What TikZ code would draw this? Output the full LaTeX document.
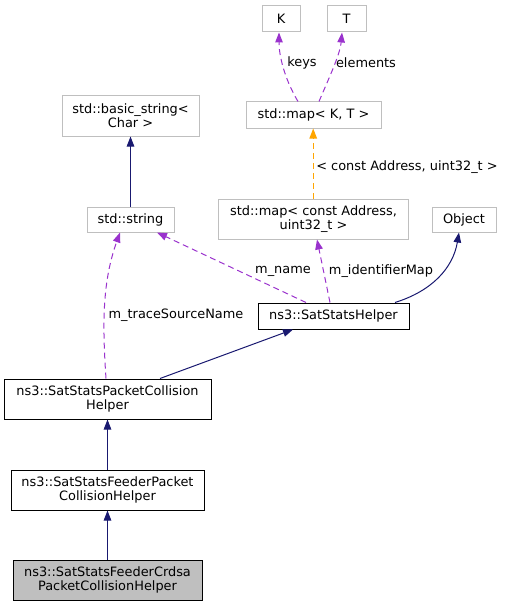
\documentclass[tikz,border=0pt]{standalone}
\usepackage{fontspec}
\setmainfont{DejaVu Sans}
\usetikzlibrary{arrows.meta,calc}
\definecolor{boxgray}{HTML}{BFBFBF}
\definecolor{navy}{HTML}{191970}
\definecolor{orchid}{HTML}{9A32CD}
\definecolor{tmplorange}{RGB}{255,165,0}
\definecolor{fillgray}{HTML}{BFBFBF}
\tikzset{
  box/.style={draw=boxgray, line width=1pt, inner sep=0pt, align=center, font=\fontsize{12.9}{14.3}\selectfont},
  nsbox/.style={box, draw=black},
  inh/.style={draw=navy, line width=1pt, -{Triangle[length=10pt,width=7.5pt]}},
  usage/.style={draw=orchid, line width=1pt, dash pattern=on 6pt off 4pt, -{Triangle[length=10pt,width=7.5pt]}},
  tmpl/.style={color=tmplorange, line width=1.2pt, dash pattern=on 6pt off 4pt, -{Triangle[length=10pt,width=7.5pt]}},
  lbl/.style={font=\fontsize{12.9}{14.3}\selectfont, inner sep=0pt},
}
\begin{document}
\begin{tikzpicture}[x=1pt,y=-1pt]
\useasboundingbox (0,0) rectangle (505,607);
% nodes
\node[box, minimum width=38pt, minimum height=26pt] (K) at (281,19) {K};
\node[box, minimum width=39pt, minimum height=26pt] (T) at (346.5,19) {T};
\node[box, minimum width=135pt, minimum height=26pt] (mapKT) at (313.5,115) {std::map< K, T >};
\node[box, minimum width=137pt, minimum height=40pt] (bstr) at (130.5,116) {std::basic\_string<\\Char >};
\node[box, minimum width=87pt, minimum height=25pt] (str) at (130.5,219.5) {std::string};
\node[box, minimum width=190pt, minimum height=40pt] (mapA) at (313.5,219) {std::map< const Address,\\uint32\_t >};
\node[box, minimum width=64pt, minimum height=25pt] (obj) at (464,219.5) {Object};
\node[nsbox, minimum width=151pt, minimum height=26pt] (helper) at (333.5,316) {ns3::SatStatsHelper};
\node[nsbox, minimum width=207pt, minimum height=40pt] (pch) at (107.5,399) {ns3::SatStatsPacketCollision\\Helper};
\node[nsbox, minimum width=193pt, minimum height=40pt] (fpch) at (107.5,490) {ns3::SatStatsFeederPacket\\CollisionHelper};
\node[nsbox, fill=fillgray, minimum width=189pt, minimum height=40pt] (crdsa) at (107.5,580) {ns3::SatStatsFeederCrdsa\\PacketCollisionHelper};
% edges
\draw[usage] ([xshift=-15.5pt]mapKT.north) .. controls (284,78) and (279,55) .. ([xshift=-2pt]K.south);
\draw[usage] ([xshift=5.5pt]mapKT.north) .. controls (328,80) and (340,55) .. ([xshift=-4.5pt]T.south);
\draw[tmpl] ([xshift=-0.3pt]mapA.north) -- ([xshift=-0.3pt]mapKT.south);
\draw[inh] (str.north) -- (bstr.south);
\draw[usage] ([xshift=-27.5pt]helper.north) -- ([xshift=26.5pt]str.south);
\draw[usage] ([xshift=-3.5pt]helper.north) -- ([xshift=3.5pt]mapA.south);
\draw[inh] ([xshift=61.5pt]helper.north) .. controls (432,291) and (453,268) .. ([xshift=-5pt]obj.south);
\draw[usage] ([xshift=-1.5pt]pch.north) .. controls (102,320) and (103,280) .. ([xshift=-10.5pt]str.south);
\draw[inh] ([xshift=52.5pt]pch.north) -- ([xshift=-40.5pt]helper.south);
\draw[inh] (fpch.north) -- (pch.south);
\draw[inh] (crdsa.north) -- (fpch.south);
% labels
\node[lbl] (lkeys) at (302,63) {keys};
\node[lbl] (lelem) at (366,63) {elements};
\node[lbl] (ltmpl) at (407,167) {< const Address, uint32\_t >};
\node[lbl] (lname) at (283,271) {m\_name};
\node[lbl] (lidm) at (381,271) {m\_identifierMap};
\node[lbl] (ltsn) at (176,315) {m\_traceSourceName};
\end{tikzpicture}
\end{document}
